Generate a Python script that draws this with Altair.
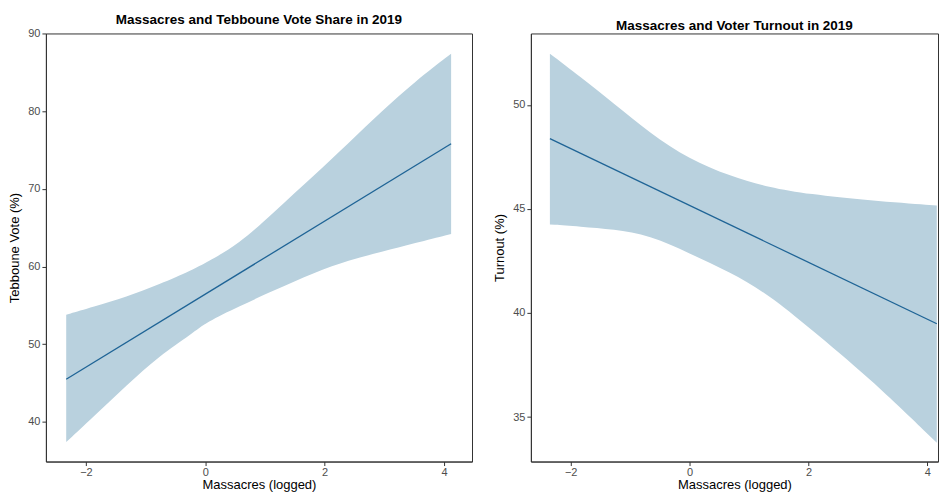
import altair as alt
import pandas as pd

# Left panel: Tebboune vote share (ribbon bounds)
vote_x = [-2.33, -1.88, -1.32, -0.77, -0.21, 0.01, 0.57, 1.12, 1.85, 2.4, 2.96, 3.51, 4.12]
vote_lo = [37.4, 40.6, 44.7, 48.5, 51.4, 52.8, 54.9, 56.8, 59.3, 60.8, 61.9, 63.0, 64.2]
vote_hi = [53.8, 54.8, 56.1, 57.7, 59.6, 60.5, 62.9, 66.8, 71.9, 75.9, 80.0, 83.8, 87.4]

# Right panel: turnout (ribbon bounds)
turn_x = [-2.35, -1.84, -1.28, -0.67, 0.0, 0.67, 1.34, 2.01, 3.02, 4.16]
turn_lo = [44.25, 44.15, 44.02, 43.73, 42.86, 41.98, 40.87, 39.29, 36.9, 33.76]
turn_hi = [52.46, 51.35, 50.08, 48.65, 47.38, 46.59, 46.03, 45.71, 45.4, 45.16]

# fitted straight lines (endpoints)
vote_line_x = [-2.33, 4.12]
vote_line_y = [45.5, 75.8]
turn_line_x = [-2.35, 4.16]
turn_line_y = [48.38, 39.48]

FONT = "Liberation Sans"
RIBBON = "#b9d1de"
LINE = "#1f6496"


def panel(xs, lo, hi, lx, ly, xdom, ydom, yticks, ytitle, title, width):
    band = pd.DataFrame({"x": xs, "lo": lo, "hi": hi})
    line = pd.DataFrame({"x": lx, "y": ly})
    xscale = alt.Scale(domain=xdom, nice=False, zero=False)
    yscale = alt.Scale(domain=ydom, nice=False, zero=False)
    xaxis = alt.Axis(values=[-2, 0, 2, 4], format="d", title="Massacres (logged)", grid=False,
                     labelFont=FONT, labelFontSize=11, labelColor="#4d4d4d",
                     titleFont=FONT, titleFontSize=13, titleFontWeight="normal", titleColor="#000000",
                     tickColor="#333333", domainColor="#333333", tickSize=4, labelPadding=1, titlePadding=1)
    yaxis = alt.Axis(values=yticks, format="d", title=ytitle, grid=False,
                     labelFont=FONT, labelFontSize=11, labelColor="#4d4d4d",
                     titleFont=FONT, titleFontSize=13, titleFontWeight="normal", titleColor="#000000",
                     tickColor="#333333", domainColor="#333333", tickSize=4, labelPadding=2, titlePadding=6)
    area = alt.Chart(band).mark_area(color=RIBBON, opacity=1, interpolate="basis").encode(
        x=alt.X("x:Q", scale=xscale, axis=xaxis),
        y=alt.Y("lo:Q", scale=yscale, axis=yaxis),
        y2="hi:Q",
    )
    ln = alt.Chart(line).mark_line(color=LINE, strokeWidth=1.3).encode(
        x=alt.X("x:Q", scale=xscale),
        y=alt.Y("y:Q", scale=yscale),
    )
    return alt.layer(area, ln).properties(
        width=width, height=429,
        title=alt.TitleParams(title, font=FONT, fontSize=13.5, fontWeight="bold", color="#000000",
                              anchor="middle", offset=1),
    )


left = panel(vote_x, vote_lo, vote_hi, vote_line_x, vote_line_y, [-2.67, 4.47], [34.9, 90],
             [40, 50, 60, 70, 80, 90], "Tebboune Vote (%)",
             "Massacres and Tebboune Vote Share in 2019", 427)
right = panel(turn_x, turn_lo, turn_hi, turn_line_x, turn_line_y, [-2.67, 4.18], [32.86, 53.43],
              [35, 40, 45, 50], "Turnout (%)", "Massacres and Voter Turnout in 2019", 408)

chart = alt.hconcat(left, right, spacing=20).properties(
    padding={"left": 0, "top": 4, "right": 0, "bottom": 0},
    background="white",
).configure_view(stroke="#333333", strokeWidth=1)

chart.save("out.html", embed_options={"renderer": "svg", "actions": False})
